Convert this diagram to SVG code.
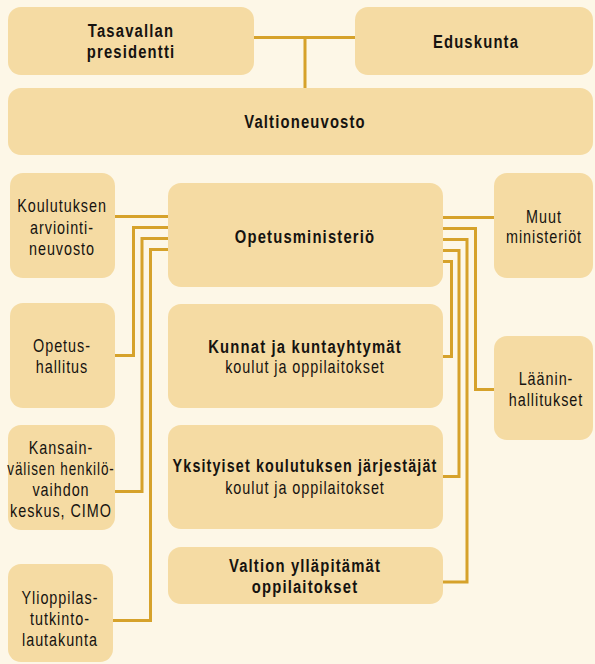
<svg xmlns="http://www.w3.org/2000/svg" width="595" height="664" viewBox="0 0 595 664">
<style>
.bg{fill:#fdf7e7}
.box{fill:#f5dba3}
.c{fill:none;stroke:#d6a22b;stroke-width:3}
text{font-family:"Liberation Sans",Arial,sans-serif;font-size:18px;fill:#161310;text-anchor:middle;letter-spacing:1.2px}
.b{font-weight:bold;font-size:19px;letter-spacing:1.5px}
</style>
<rect class="bg" x="0" y="0" width="595" height="664"/>
<g id="connectors">
<path class="c" d="M254 37.5H355M305 37.5V88"/>
<path class="c" d="M115 216.5H168"/>
<path class="c" d="M168 227.5H133.5V355.5H115"/>
<path class="c" d="M168 238.5H142V491.5H115"/>
<path class="c" d="M168 249.5H150.5V620.5H113"/>
<path class="c" d="M443 217.5H494"/>
<path class="c" d="M443 228.5H475.5V389.5H494"/>
<path class="c" d="M443 239.5H467V582H443"/>
<path class="c" d="M443 250.5H459V476.5H443"/>
<path class="c" d="M443 261.5H451.5V356.5H443"/>
</g>
<g id="presidentti"><rect class="box" x="8" y="7" width="246" height="68" rx="13"/><text class="b" transform="translate(131,37) scale(0.78,1)">Tasavallan</text><text class="b" transform="translate(131,58) scale(0.78,1)">presidentti</text></g>
<g id="eduskunta"><rect class="box" x="355" y="7" width="238" height="68" rx="13"/><text class="b" transform="translate(476,48) scale(0.78,1)">Eduskunta</text></g>
<g id="valtioneuvosto"><rect class="box" x="8" y="88" width="585" height="67" rx="13"/><text class="b" transform="translate(305,128) scale(0.78,1)">Valtioneuvosto</text></g>
<g id="opetusministerio"><rect class="box" x="168" y="183" width="275" height="104" rx="13"/><text class="b" transform="translate(305,243) scale(0.78,1)">Opetusministeriö</text></g>
<g id="kunnat"><rect class="box" x="168" y="304" width="275" height="104" rx="13"/><text class="b" transform="translate(305,353) scale(0.78,1)">Kunnat ja kuntayhtymät</text><text transform="translate(305,373) scale(0.8,1)">koulut ja oppilaitokset</text></g>
<g id="yksityiset"><rect class="box" x="168" y="425" width="275" height="104" rx="13"/><text class="b" transform="translate(305,472) scale(0.755,1)">Yksityiset koulutuksen järjestäjät</text><text transform="translate(305,494) scale(0.8,1)">koulut ja oppilaitokset</text></g>
<g id="valtion"><rect class="box" x="168" y="547" width="275" height="57" rx="13"/><text class="b" transform="translate(305,572) scale(0.78,1)">Valtion ylläpitämät</text><text class="b" transform="translate(305,593) scale(0.78,1)">oppilaitokset</text></g>
<g id="arviointineuvosto"><rect class="box" x="10" y="173" width="105" height="105" rx="13"/><text transform="translate(62,212) scale(0.8,1)">Koulutuksen</text><text transform="translate(62,234) scale(0.8,1)">arviointi-</text><text transform="translate(62,255) scale(0.8,1)">neuvosto</text></g>
<g id="opetushallitus"><rect class="box" x="10" y="303" width="105" height="105" rx="13"/><text transform="translate(62,352) scale(0.8,1)">Opetus-</text><text transform="translate(62,373) scale(0.8,1)">hallitus</text></g>
<g id="cimo"><rect class="box" x="8" y="425" width="107" height="105" rx="13"/><text transform="translate(61,454) scale(0.8,1)">Kansain-</text><text transform="translate(61,475) scale(0.75,1)">välisen henkilö-</text><text transform="translate(61,496) scale(0.8,1)">vaihdon</text><text transform="translate(61,517) scale(0.8,1)">keskus, CIMO</text></g>
<g id="ylioppilastutkintolautakunta"><rect class="box" x="8" y="564" width="105" height="98" rx="13"/><text transform="translate(60,604) scale(0.8,1)">Ylioppilas-</text><text transform="translate(60,625) scale(0.8,1)">tutkinto-</text><text transform="translate(60,646) scale(0.8,1)">lautakunta</text></g>
<g id="muut"><rect class="box" x="494" y="173" width="99" height="105" rx="13"/><text transform="translate(544,223) scale(0.8,1)">Muut</text><text transform="translate(544,243) scale(0.8,1)">ministeriöt</text></g>
<g id="laaninhallitukset"><rect class="box" x="494" y="336" width="99" height="104" rx="13"/><text transform="translate(546,385) scale(0.8,1)">Läänin-</text><text transform="translate(546,406) scale(0.8,1)">hallitukset</text></g>
</svg>
